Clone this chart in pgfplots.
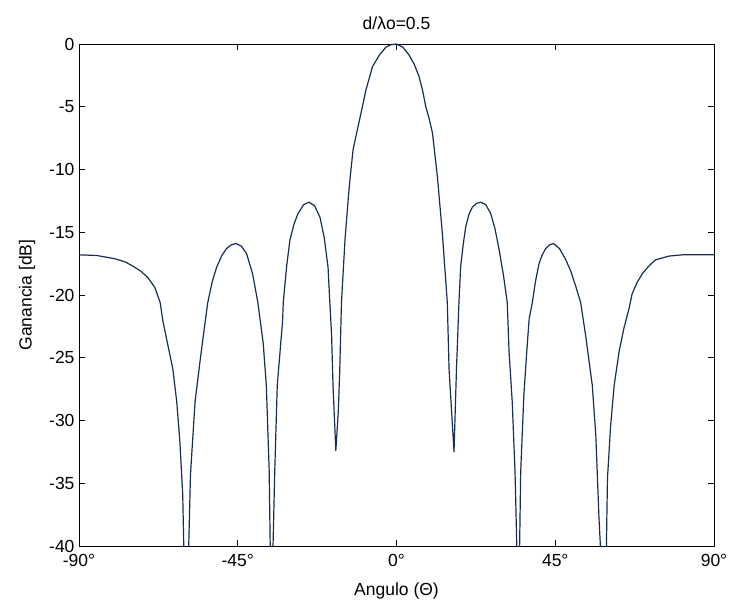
\documentclass[border=0pt]{standalone}
\usepackage{pgfplots}
\pgfplotsset{compat=1.18}
\usepackage{fontspec}
\setmainfont{Liberation Sans}
\definecolor{curve}{RGB}{22,45,85}
\begin{document}
\begin{tikzpicture}[font=\fontsize{17.5bp}{21bp}\selectfont]
\begin{axis}[name=ax, scale only axis, width=635bp, height=502bp,
  xmin=-90, xmax=90, ymin=-40, ymax=0,
  xtick={-90,-45,0,45,90}, xticklabels={-90°,-45°,0°,45°,90°},
  ytick={-40,-35,-30,-25,-20,-15,-10,-5,0},
  tick align=inside, major tick length=6bp,
  tick style={black, line width=0.8bp},
  axis line style={black, line width=0.9bp},
  /pgf/number format/assume math mode=true,
  title={d/λo=0.5}, xlabel={Angulo (Θ)}, ylabel={Ganancia [dB]},
  title style={at={(axis description cs:0.5,1)}, anchor=center, yshift=15bp},
  xlabel style={at={(axis description cs:0.5,0)}, anchor=center, yshift=-45bp},
  ylabel style={at={(axis description cs:0,0.5)}, anchor=center, yshift=52bp},
  xticklabel style={anchor=north, yshift=-5bp},
  yticklabel style={anchor=east, xshift=-1bp},
  clip=true]
\addplot[curve, line width=1.2bp, line join=round] coordinates {
(-90,-16.8) (-85,-16.85) (-80,-17.1) (-77,-17.35) (-74.7,-17.7) (-72.5,-18.1) (-70.5,-18.6) (-68.5,-19.4) (-67,-20.6) (-66.2,-22.1)
(-64.8,-24.0) (-63.4,-25.9) (-62.3,-28.5) (-61.4,-31.7) (-60.6,-35.9) (-60.3,-40) (-59.6,-48) (-58.9,-40)
(-58.4,-34.3) (-57.1,-28.5) (-55.7,-25.3) (-54.6,-22.9) (-53.5,-20.6) (-52.2,-18.9) (-51.0,-17.8) (-49.6,-16.9) (-48.2,-16.3) (-46.8,-16.0) (-45.5,-15.9)
(-44.0,-16.1) (-42.5,-16.7) (-40.8,-18.3) (-39.3,-20.6) (-37.8,-23.8) (-36.9,-27.2) (-36.1,-33.9) (-35.8,-40) (-35.4,-48)
(-35.0,-40) (-34.5,-33.9) (-33.8,-27.2) (-32.3,-22.1) (-32.1,-20.6) (-31.1,-17.6) (-30.2,-15.6) (-29.0,-14.3) (-27.9,-13.5)
(-26.3,-12.8) (-24.8,-12.6) (-23.2,-12.9) (-21.7,-13.8) (-20.5,-15.4) (-19.4,-17.8) (-18.9,-20.6) (-18.4,-23.2)
(-18.0,-27.2) (-17.2,-32.4) (-16.5,-29.3) (-16.1,-26.1) (-15.6,-20.6) (-14.6,-15.6) (-13.7,-12.4)
(-13.2,-10.8) (-12.3,-8.4) (-11.3,-7.1) (-9.9,-5.3) (-8.7,-3.7) (-6.8,-1.8) (-4.9,-0.9)
(-3.0,-0.25) (-1.5,-0.05) (0,0) (1.8,-0.25) (3.6,-0.9) (5.0,-1.6) (6.4,-2.6) (7.4,-3.7) (8.3,-5.0) (9.3,-6.0) (10.2,-7.1) (11.6,-10.6)
(13.0,-15.1) (14.4,-20.6) (14.9,-25.9) (16.3,-32.5) (17.0,-25.9) (17.7,-20.6) (18.2,-17.7)
(18.9,-16.0) (19.6,-14.6) (20.5,-13.6) (21.5,-13.0) (22.7,-12.7) (23.9,-12.6) (25.3,-12.8) (26.7,-13.5) (27.9,-14.7) (29.1,-16.4) (30.3,-18.4) (31.4,-20.6) (31.9,-24.5)
(32.8,-28.5) (33.6,-34.1) (34.1,-40) (34.5,-48) (34.9,-40) (35.2,-34.1) (36.1,-28.0)
(36.9,-24.6) (37.6,-21.9) (38.5,-20.6) (39.4,-18.9) (40.4,-17.5) (41.3,-16.8) (42.3,-16.3) (43.4,-16.0) (44.5,-15.9) (46.2,-16.3) (48.0,-17.2) (49.4,-18.1) (50.8,-19.3)
(52.2,-20.6) (53.6,-23.2) (55.5,-27.2) (56.5,-31.2) (57.4,-37.8) (57.8,-40) (58.7,-48)
(59.5,-40) (59.8,-34.6) (60.7,-30.4) (61.7,-27.2) (63.1,-24.5) (64.5,-22.6) (65.9,-21.1) (66.8,-19.9)
(68.2,-19.0) (69.7,-18.3) (71.5,-17.7) (73.4,-17.2) (77.2,-16.9) (81.0,-16.8) (90,-16.8)
};
\end{axis}
\path[use as bounding box] ([xshift=-79bp,yshift=-58bp]ax.south west) rectangle ([xshift=18bp,yshift=44bp]ax.north east);
\end{tikzpicture}
\end{document}
